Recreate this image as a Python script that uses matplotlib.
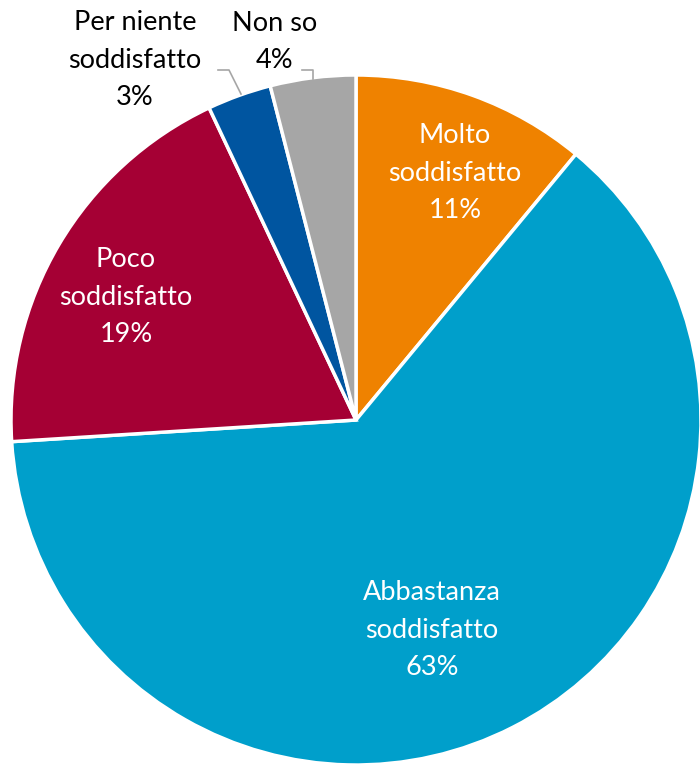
import matplotlib.pyplot as plt

labels = ["Molto\nsoddisfatto", "Abbastanza\nsoddisfatto", "Poco\nsoddisfatto", "Per niente\nsoddisfatto", "Non so"]
values = [11, 63, 19, 3, 4]
colors = ["#EF8200", "#009FCB", "#A50034", "#0055A0", "#A6A6A6"]

plt.rcParams['font.family'] = ['Lato', 'DejaVu Sans']

fig = plt.figure(figsize=(7, 7.65), dpi=100)
ax = fig.add_axes([0, 0, 1, 1])

cx, cy, r = 356, 765 - 420, 345
ax.pie(values, colors=colors, startangle=90, counterclock=False,
       center=(cx, cy), radius=r, frame=True,
       wedgeprops=dict(edgecolor="white", linewidth=2.5))
ax.set_xlim(0, 700)
ax.set_ylim(0, 765)
ax.axis("off")

fs = 19.5
# label positions (pixels from top-left)
pos = [(455, 173, "white"), (432, 630, "white"), (126, 297, "white"),
       (135, 60, "black"), (275, 42, "black")]
for lab, v, (px, py, col) in zip(labels, values, pos):
    ax.text(px, 765 - py, f"{lab}\n{v}%", ha="center", va="center",
            fontsize=fs, color=col, linespacing=1.62)

# leader lines
ax.plot([218, 229, 241], [765 - 70, 765 - 70, 765 - 94], color="#A6A6A6", lw=1.2)
ax.plot([302, 313, 313], [765 - 70, 765 - 70, 765 - 79], color="#A6A6A6", lw=1.2)

fig.savefig("out.png", dpi=100)
